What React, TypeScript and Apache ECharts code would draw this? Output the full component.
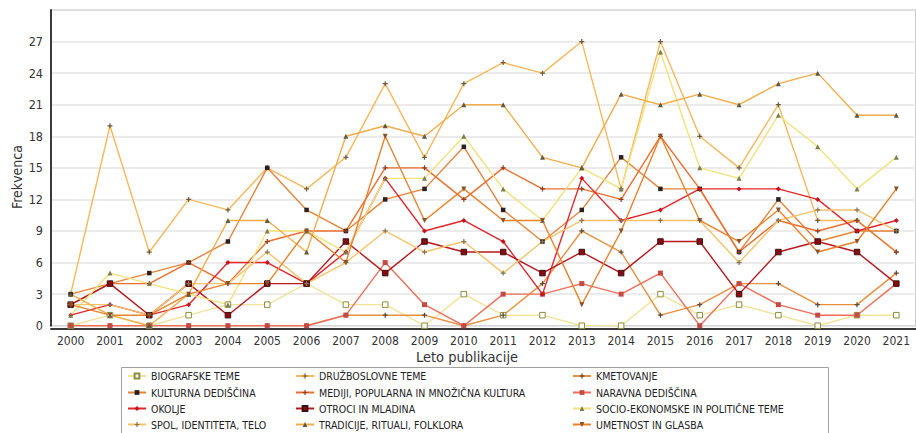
import React, { useEffect, useRef } from "react";
import * as echarts from "echarts";

const years = ["2000","2001","2002","2003","2004","2005","2006","2007","2008","2009","2010","2011","2012","2013","2014","2015","2016","2017","2018","2019","2020","2021"];

const biografske = [0,1,0,1,2,2,4,2,2,0,3,1,1,0,0,3,1,2,1,0,1,1];
const druzboslovne = [3,19,7,12,11,15,13,16,23,16,23,25,24,27,13,27,18,15,21,10,10,7];
const kmetovanje = [0,0,0,0,0,0,0,1,1,1,0,1,4,9,7,1,2,4,4,2,2,5];
const kulturna = [3,4,5,6,8,15,11,9,12,13,17,11,8,11,16,13,13,7,12,8,9,9];
const mediji = [2,4,4,6,4,8,9,9,15,15,12,15,13,13,12,18,13,7,10,9,10,7];
const naravna = [0,0,0,0,0,0,0,1,6,2,0,3,3,4,3,5,0,4,2,1,1,4];
const okolje = [1,2,1,2,6,6,4,7,14,9,10,8,3,14,10,11,13,13,13,12,9,10];
const otroci = [2,4,1,4,1,4,4,8,5,8,7,7,5,7,5,8,8,3,7,8,7,4];
const socio = [1,5,4,3,2,9,9,7,14,14,18,13,10,15,13,26,15,14,20,17,13,16];
const spol = [2,2,1,4,4,7,4,6,9,7,8,5,8,10,10,10,10,6,10,11,11,9];
const tradicije = [3,1,0,3,10,10,7,18,19,18,21,21,16,15,22,21,22,21,23,24,20,20];
const umetnost = [2,1,1,3,4,4,9,6,18,10,13,10,10,2,9,18,10,8,11,7,8,13];

const PLUS = "path://M3,0H5V3H8V5H5V8H3V5H0V3H3Z";
const DASH = "path://M0,0H8V2.4H0Z";

const FONT = "'DejaVu Sans Condensed', sans-serif";

type Def = { name: string; data: number[]; line: string; sym: string; fill: string; border?: string; rot?: number; size?: number };

const defs: Def[] = [
  { name: "BIOGRAFSKE TEME", data: biografske, line: "#f1e39c", sym: "rect", fill: "#ffffff", border: "#8c8c3c", size: 5.5 },
  { name: "DRUŽBOSLOVNE TEME", data: druzboslovne, line: "#f6b85a", sym: PLUS, fill: "#6e5c3c" },
  { name: "KMETOVANJE", data: kmetovanje, line: "#e8903e", sym: PLUS, fill: "#5c4a36" },
  { name: "KULTURNA DEDIŠČINA", data: kulturna, line: "#e5843a", sym: "rect", fill: "#2a2020", size: 4.5 },
  { name: "MEDIJI, POPULARNA IN MNOŽIČNA KULTURA", data: mediji, line: "#ec6e30", sym: PLUS, fill: "#8e3f22" },
  { name: "NARAVNA DEDIŠČINA", data: naravna, line: "#ef6c58", sym: DASH, fill: "#c44a44" },
  { name: "OKOLJE", data: okolje, line: "#e2262b", sym: "diamond", fill: "#c8141c", size: 5 },
  { name: "OTROCI IN MLADINA", data: otroci, line: "#b7181d", sym: "rect", fill: "#8a0c10", border: "#3a1010", size: 5.5 },
  { name: "SOCIO-EKONOMSKE IN POLITIČNE TEME", data: socio, line: "#f3e27a", sym: "triangle", fill: "#7d7d52", size: 5 },
  { name: "SPOL, IDENTITETA, TELO", data: spol, line: "#f4c46c", sym: PLUS, fill: "#857455" },
  { name: "TRADICIJE, RITUALI, FOLKLORA", data: tradicije, line: "#f2ad4a", sym: "triangle", fill: "#5e5a44", size: 5 },
  { name: "UMETNOST IN GLASBA", data: umetnost, line: "#e8822b", sym: "triangle", fill: "#8a5228", rot: 180, size: 5 },
];

const colLefts = [127, 295, 572];
const rowTops = [370.5, 387, 403, 419];

export default function App() {
  const ref = useRef<HTMLDivElement>(null);
  useEffect(() => {
    if (!ref.current) return;
    const chart = echarts.init(ref.current, undefined, { renderer: "svg" });
    chart.setOption({
      animation: false,
      backgroundColor: "#ffffff",
      grid: { left: 51, top: 10, width: 866, height: 315.7, show: true, borderColor: "#9a9a9a", borderWidth: 1 },
      xAxis: {
        type: "category",
        data: years,
        offset: 3,
        axisLine: { onZero: false, lineStyle: { color: "#3a3a3a", width: 2 } },
        axisTick: { show: false },
        axisLabel: { color: "#333", fontSize: 12, fontFamily: FONT, margin: 6, interval: 0 },
        splitLine: { show: false },
      },
      yAxis: {
        type: "value",
        min: 0,
        max: 30,
        interval: 3,
        axisLine: { show: true, lineStyle: { color: "#3a3a3a", width: 2 } },
        axisTick: { show: false },
        axisLabel: { color: "#333", fontSize: 12.5, fontFamily: FONT, margin: 8, showMaxLabel: false },
        splitLine: { lineStyle: { color: "#e4e4e4", width: 1.5 } },
      },
      legend: defs.map((d, i) => ({
        left: colLefts[i % 3],
        top: rowTops[Math.floor(i / 3)],
        itemWidth: 18,
        itemHeight: 6,
        itemGap: 0,
        padding: 0,
        data: [d.name],
        textStyle: { fontSize: 10.5, fontFamily: FONT, color: "#222" },
      })),
      graphic: [
        { type: "rect", shape: { x: 121.5, y: 367.5, width: 707, height: 80 }, style: { fill: "none", stroke: "#a0a0a0", lineWidth: 1 }, silent: true },
        { type: "text", x: 17, y: 177, rotation: Math.PI / 2, style: { text: "Frekvenca", fontSize: 14, fontFamily: FONT, fill: "#333", textAlign: "center", textVerticalAlign: "middle" } },
        { type: "text", x: 467, y: 357, style: { text: "Leto publikacije", fontSize: 14.5, fontFamily: FONT, fill: "#333", textAlign: "center", textVerticalAlign: "middle" } },
      ],
      series: defs.map((d) => ({
        name: d.name,
        type: "line",
        data: d.data,
        symbol: d.sym,
        symbolSize: d.size ?? 5,
        symbolRotate: d.rot ?? 0,
        showAllSymbol: true,
        lineStyle: { color: d.line, width: 1.4 },
        itemStyle: { color: d.fill, borderColor: d.border ?? d.fill, borderWidth: d.border ? 1 : 0 },
        emphasis: { disabled: true },
      })),
    });
    return () => chart.dispose();
  }, []);
  return <div ref={ref} style={{ position: "fixed", left: 0, top: 0, width: 916, height: 433 }} />;
}
